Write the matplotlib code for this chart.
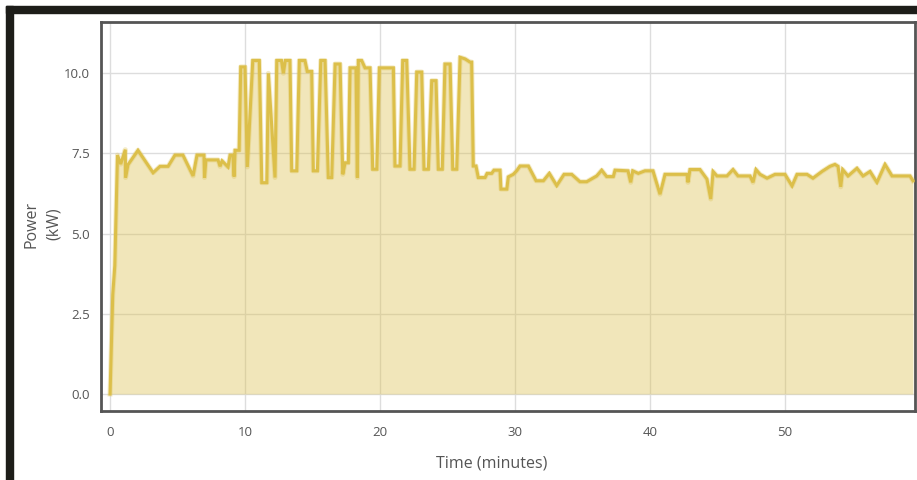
import matplotlib
matplotlib.use("Agg")
import matplotlib.pyplot as plt
from matplotlib.patches import Rectangle

plt.rcParams['font.family'] = ['Open Sans', 'DejaVu Sans']

# time (minutes) and power (kW)
time_min = [0, 0.2, 0.35, 0.55, 0.79, 1.13, 1.15, 1.33, 2.07, 3.19, 3.7, 4.3, 4.81, 5.4,
            6.15, 6.44, 6.96, 7.0, 7.1, 8.0, 8.15, 8.3, 8.74, 8.89, 9.1, 9.19, 9.26, 9.56,
            9.68, 10.0, 10.17, 10.57, 11.06, 11.24, 11.61, 11.73, 12.22, 12.35, 12.7, 12.84,
            12.98, 13.33, 13.46, 13.83, 14.02, 14.44, 14.61, 14.94, 15.06, 15.36, 15.61,
            15.93, 16.17, 16.42, 16.67, 17.04, 17.24, 17.41, 17.65, 17.78, 18.22, 18.32,
            18.39, 18.64, 18.89, 19.26, 19.46, 19.76, 19.95, 20.99, 21.11, 21.48, 21.68,
            21.98, 22.22, 22.52, 22.72, 23.09, 23.26, 23.58, 23.83, 24.15, 24.32, 24.61,
            24.81, 25.19, 25.39, 25.68, 25.93, 26.3, 26.67, 26.79, 26.91, 27.11, 27.28,
            27.78, 27.93, 28.27, 28.44, 28.89, 28.96, 29.39, 29.5, 29.87, 30.12, 30.37,
            30.99, 31.56, 32.1, 32.54, 33.09, 33.63, 34.2, 34.81, 35.31, 36.05, 36.42,
            36.79, 37.28, 37.41, 38.37, 38.57, 38.72, 39.13, 39.63, 40.22, 40.74, 41.11,
            42.74, 42.81, 42.96, 43.7, 44.22, 44.5, 44.67, 44.96, 45.7, 46.15, 46.52,
            47.41, 47.63, 47.85, 48.15, 48.67, 49.26, 50.0, 50.52, 50.89, 51.63, 52.07,
            52.74, 53.33, 53.7, 53.93, 54.13, 54.27, 54.67, 55.33, 55.78, 56.3, 56.81,
            57.41, 57.93, 59.26, 59.48]
power_kw = [0, 3.1, 4.0, 7.45, 7.17, 7.62, 6.75, 7.15, 7.6, 6.9, 7.1, 7.1, 7.45, 7.45,
            6.8, 7.45, 7.45, 6.75, 7.3, 7.3, 7.1, 7.27, 7.08, 7.45, 7.45, 6.78, 7.6, 7.6,
            10.2, 10.2, 7.08, 10.4, 10.4, 6.59, 6.59, 10.0, 6.75, 10.4, 10.4, 10.0,
            10.4, 10.4, 6.96, 6.96, 10.4, 10.4, 10.06, 10.06, 6.96, 6.96, 10.4,
            10.4, 6.75, 6.75, 10.29, 10.29, 6.85, 7.21, 7.21, 10.17, 10.17, 6.75,
            10.4, 10.4, 10.17, 10.17, 7.01, 7.01, 10.17, 10.17, 7.11, 7.11, 10.4,
            10.4, 7.01, 7.01, 10.04, 10.04, 7.01, 7.01, 9.77, 9.77, 7.01, 7.01,
            10.29, 10.29, 7.01, 7.01, 10.5, 10.45, 10.35, 10.35, 7.11, 7.11, 6.75,
            6.75, 6.88, 6.88, 6.98, 6.98, 6.39, 6.39, 6.77, 6.85, 6.96, 7.11,
            7.11, 6.65, 6.65, 6.88, 6.5, 6.85, 6.85, 6.62, 6.62, 6.8, 6.98,
            6.78, 6.78, 6.98, 6.96, 6.6, 6.96, 6.88, 6.96, 6.96, 6.23, 6.85,
            6.85, 6.6, 7.0, 7.0, 6.7, 6.08, 6.94, 6.8, 6.8, 7.0, 6.8,
            6.8, 6.6, 7.0, 6.85, 6.73, 6.85, 6.85, 6.49, 6.85, 6.85, 6.73,
            6.94, 7.1, 7.16, 7.1, 6.46, 7.0, 6.8, 7.04, 6.8, 6.94, 6.6,
            7.16, 6.8, 6.8, 6.65]

x_ticks = [0, 10, 20, 30, 40, 50]
y_ticks = [0.0, 2.5, 5.0, 7.5, 10.0]
y_tick_labels = ["0.0", "2.5", "5.0", "7.5", "10.0"]

W, H = 917, 480
fig = plt.figure(figsize=(W / 100, H / 100), dpi=100)
fig.patch.set_facecolor('white')

# dark page frame (top and left)
fig.patches.append(Rectangle((6 / W, 1 - 12.5 / H), 1 - 6 / W, 6.5 / H,
                             transform=fig.transFigure, color='#1d1d19', zorder=0))
fig.patches.append(Rectangle((6 / W, 0), 6.5 / W, 1 - 6 / H,
                             transform=fig.transFigure, color='#1d1d19', zorder=0))

left, right, top, bottom = 101, 915, 22, 411
ax = fig.add_axes([left / W, 1 - bottom / H, (right - left) / W, (bottom - top) / H])

line_color = '#dcbf4a'
ax.fill_between(time_min, power_kw, 0, color=line_color, alpha=0.38, linewidth=0, zorder=2)
ax.plot(time_min, power_kw, color=line_color, linewidth=3.6, alpha=0.3, zorder=3,
        solid_joinstyle='round')
ax.plot(time_min, power_kw, color=line_color, linewidth=2.2, zorder=4,
        solid_joinstyle='miter')

ax.set_xlim(-0.67, 59.63)
ax.set_ylim(-0.53, 11.6)
ax.set_xticks(x_ticks)
ax.set_yticks(y_ticks)
ax.set_yticklabels(y_tick_labels)
ax.grid(True, color='#dddddd', linewidth=1.0, zorder=1)
ax.set_axisbelow(True)
ax.tick_params(length=0, labelsize=9.5, labelcolor='#555555')
ax.tick_params(axis='x', pad=11)
ax.tick_params(axis='y', pad=8)

for sp in ax.spines.values():
    sp.set_color('#555555')
    sp.set_linewidth(2.0)

ax.set_xlabel('Time (minutes)', fontsize=11.5, color='#555555')
ax.xaxis.set_label_coords((492 - left) / (right - left), -(456 - bottom) / (bottom - top))
ax.set_ylabel('Power\n(kW)', fontsize=11.5, color='#555555', linespacing=1.55)
ax.yaxis.set_label_coords((62 - left) / (right - left), (bottom - 224) / (bottom - top))

fig.savefig('out.png', dpi=100)
